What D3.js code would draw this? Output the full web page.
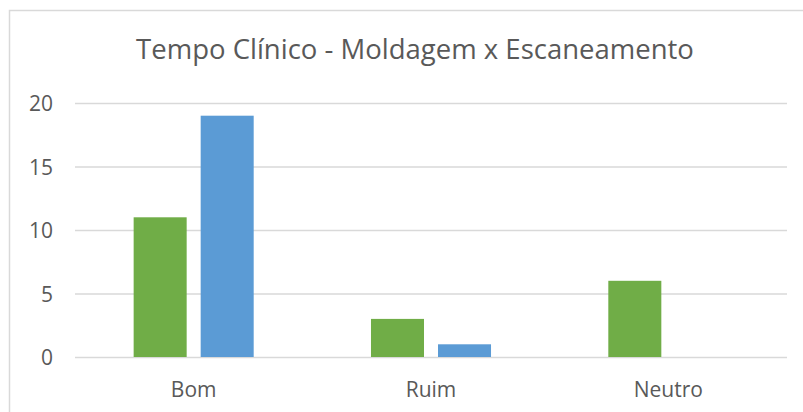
<!DOCTYPE html>
<html>
<head>
<meta charset="utf-8">
<script src="https://cdn.jsdelivr.net/npm/d3@7"></script>
<style>
  body { margin: 0; background: #fff; }
  svg text { font-family: "Open Sans", "Noto Sans", sans-serif; fill: #595959; }
</style>
</head>
<body>
<div id="chart"></div>
<script>
// data
var categories = ["Bom", "Ruim", "Neutro"];
var seriesNames = ["Moldagem", "Escaneamento"];
var moldagem = [11, 3, 6];
var escaneamento = [19, 1, 0];
var yTicks = [0, 5, 10, 15, 20];
var title = "Tempo Clínico - Moldagem x Escaneamento";

var colors = ["#70AD47", "#5B9BD5"];
var W = 803, H = 412;
var margin = { top: 103, right: 16, bottom: 55, left: 75 };
var width = W - margin.left - margin.right;
var height = H - margin.top - margin.bottom;

var svg = d3.select("#chart").append("svg")
  .attr("width", W)
  .attr("height", H);

// chart frame
svg.append("rect")
  .attr("x", 9.5).attr("y", 10.5)
  .attr("width", 820).attr("height", 420)
  .attr("fill", "none")
  .attr("stroke", "#d9d9d9")
  .attr("stroke-width", 1.5);

svg.append("text")
  .attr("x", 415)
  .attr("y", 59)
  .attr("text-anchor", "middle")
  .style("font-size", "27.5px")
  .text(title);

var plot = svg.append("g")
  .attr("transform", "translate(" + margin.left + "," + margin.top + ")");

var y = d3.scaleLinear().domain([0, 20]).range([height, 0]);
var x0 = d3.scaleBand().domain(categories).range([0, width]).paddingInner(0).paddingOuter(0);
var x1 = d3.scaleBand().domain(seriesNames).range([0, x0.bandwidth()]).paddingInner(0.209).paddingOuter(0.875);

// gridlines
plot.append("g")
  .call(d3.axisLeft(y).tickValues(yTicks).tickSize(-width).tickFormat(""))
  .call(function(g) {
    g.select(".domain").remove();
    g.selectAll("line").attr("stroke", "#d9d9d9").attr("stroke-width", 1.5);
  });

// y labels
plot.append("g")
  .call(d3.axisLeft(y).tickValues(yTicks).tickSize(0).tickPadding(22))
  .call(function(g) {
    g.select(".domain").remove();
    g.selectAll("text").style("font-size", "21px").attr("fill", "#595959")
      .attr("dy", "0.36em")
      .style("font-family", "'Open Sans', sans-serif");
  });

// x labels
plot.append("g")
  .attr("transform", "translate(0," + height + ")")
  .call(d3.axisBottom(x0).tickSize(0))
  .call(function(g) {
    g.select(".domain").remove();
    g.selectAll("text").style("font-size", "21px").attr("fill", "#595959")
      .attr("y", 40).attr("dy", null)
      .style("font-family", "'Open Sans', sans-serif");
  });

var rows = categories.map(function(c, i) {
  return { cat: c, values: [moldagem[i], escaneamento[i]] };
});

var groups = plot.selectAll(".grp")
  .data(rows)
  .enter().append("g")
  .attr("class", "grp")
  .attr("transform", function(d) { return "translate(" + x0(d.cat) + ",0)"; });

groups.selectAll("rect")
  .data(function(d) {
    return d.values.map(function(v, j) { return { name: seriesNames[j], value: v, color: colors[j] }; });
  })
  .enter().append("rect")
  .attr("x", function(d) { return x1(d.name); })
  .attr("width", x1.bandwidth())
  .attr("y", function(d) { return y(d.value); })
  .attr("height", function(d) { return height - y(d.value); })
  .attr("fill", function(d) { return d.color; });
</script>
</body>
</html>
